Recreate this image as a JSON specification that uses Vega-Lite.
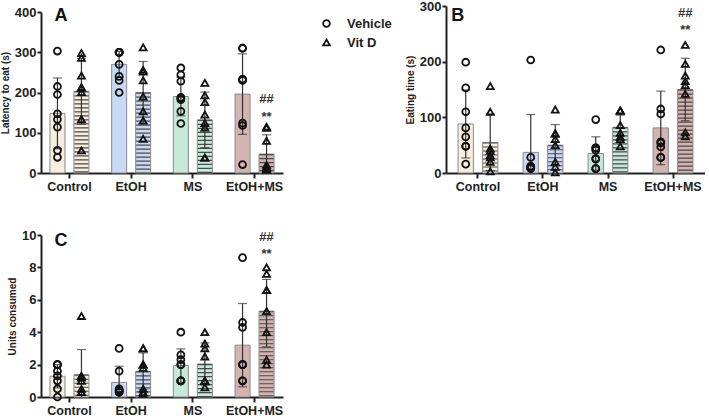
{
"$schema":"https://vega.github.io/schema/vega-lite/v6.json",
"padding":{"left":0,"top":0,"right":0,"bottom":0},
"background":"white",
"config":{
 "view":{"stroke":null},
 "font":"Liberation Sans",
 "axis":{"grid":false,"domainColor":"#222","domainWidth":2,"tickColor":"#222","tickWidth":2,"labelFont":"Liberation Sans","labelFontWeight":"bold","labelColor":"#222","titleFont":"Liberation Sans","titleFontWeight":"bold","titleColor":"#222","labelOverlap":false},
 "axisX":{"tickSize":5,"labelFontSize":12.5,"labelPadding":2,"labelAngle":0},
 "axisY":{"tickSize":4,"labelFontSize":13,"labelPadding":1,"titleFontSize":10,"titlePadding":4}
},
"datasets":{
 "summary":[
  {"p":"A","g":"Control","t":"Vehicle","m":148,"lo":60,"hi":236},
  {"p":"A","g":"Control","t":"Vit D","m":203,"lo":121,"hi":285},
  {"p":"A","g":"EtOH","t":"Vehicle","m":270,"lo":238,"hi":302},
  {"p":"A","g":"EtOH","t":"Vit D","m":200,"lo":123,"hi":277},
  {"p":"A","g":"MS","t":"Vehicle","m":190,"lo":142,"hi":238},
  {"p":"A","g":"MS","t":"Vit D","m":132,"lo":63,"hi":201},
  {"p":"A","g":"EtOH+MS","t":"Vehicle","m":196,"lo":96,"hi":296},
  {"p":"A","g":"EtOH+MS","t":"Vit D","m":47,"lo":0,"hi":95},
  {"p":"B","g":"Control","t":"Vehicle","m":88,"lo":27,"hi":149},
  {"p":"B","g":"Control","t":"Vit D","m":55,"lo":4,"hi":106},
  {"p":"B","g":"EtOH","t":"Vehicle","m":37,"lo":0,"hi":105},
  {"p":"B","g":"EtOH","t":"Vit D","m":50,"lo":13,"hi":87},
  {"p":"B","g":"MS","t":"Vehicle","m":35,"lo":5,"hi":65},
  {"p":"B","g":"MS","t":"Vit D","m":82,"lo":60,"hi":104},
  {"p":"B","g":"EtOH+MS","t":"Vehicle","m":81,"lo":15,"hi":147},
  {"p":"B","g":"EtOH+MS","t":"Vit D","m":150,"lo":94,"hi":206},
  {"p":"C","g":"Control","t":"Vehicle","m":1.28,"lo":0.56,"hi":2.0},
  {"p":"C","g":"Control","t":"Vit D","m":1.38,"lo":0,"hi":2.93},
  {"p":"C","g":"EtOH","t":"Vehicle","m":0.9,"lo":0,"hi":1.9},
  {"p":"C","g":"EtOH","t":"Vit D","m":1.59,"lo":0.46,"hi":2.72},
  {"p":"C","g":"MS","t":"Vehicle","m":1.94,"lo":0.91,"hi":2.97},
  {"p":"C","g":"MS","t":"Vit D","m":2.04,"lo":0.74,"hi":3.34},
  {"p":"C","g":"EtOH+MS","t":"Vehicle","m":3.2,"lo":0.63,"hi":5.77},
  {"p":"C","g":"EtOH+MS","t":"Vit D","m":5.3,"lo":3.1,"hi":7.26}
 ],
 "pts":[
  {"p":"A","g":"Control","t":"Vehicle","v":303},{"p":"A","g":"Control","t":"Vehicle","v":215},{"p":"A","g":"Control","t":"Vehicle","v":195},{"p":"A","g":"Control","t":"Vehicle","v":147},{"p":"A","g":"Control","t":"Vehicle","v":133},{"p":"A","g":"Control","t":"Vehicle","v":114},{"p":"A","g":"Control","t":"Vehicle","v":56},{"p":"A","g":"Control","t":"Vehicle","v":39},
  {"p":"A","g":"Control","t":"Vit D","v":298},{"p":"A","g":"Control","t":"Vit D","v":286},{"p":"A","g":"Control","t":"Vit D","v":242},{"p":"A","g":"Control","t":"Vit D","v":213},{"p":"A","g":"Control","t":"Vit D","v":212},{"p":"A","g":"Control","t":"Vit D","v":201},{"p":"A","g":"Control","t":"Vit D","v":134},{"p":"A","g":"Control","t":"Vit D","v":56},
  {"p":"A","g":"EtOH","t":"Vehicle","v":300},{"p":"A","g":"EtOH","t":"Vehicle","v":300},{"p":"A","g":"EtOH","t":"Vehicle","v":300},{"p":"A","g":"EtOH","t":"Vehicle","v":299},{"p":"A","g":"EtOH","t":"Vehicle","v":270},{"p":"A","g":"EtOH","t":"Vehicle","v":240},{"p":"A","g":"EtOH","t":"Vehicle","v":230},{"p":"A","g":"EtOH","t":"Vehicle","v":200},
  {"p":"A","g":"EtOH","t":"Vit D","v":312},{"p":"A","g":"EtOH","t":"Vit D","v":256},{"p":"A","g":"EtOH","t":"Vit D","v":252},{"p":"A","g":"EtOH","t":"Vit D","v":230},{"p":"A","g":"EtOH","t":"Vit D","v":190},{"p":"A","g":"EtOH","t":"Vit D","v":153},{"p":"A","g":"EtOH","t":"Vit D","v":130},{"p":"A","g":"EtOH","t":"Vit D","v":85},
  {"p":"A","g":"MS","t":"Vehicle","v":261},{"p":"A","g":"MS","t":"Vehicle","v":244},{"p":"A","g":"MS","t":"Vehicle","v":228},{"p":"A","g":"MS","t":"Vehicle","v":188},{"p":"A","g":"MS","t":"Vehicle","v":186},{"p":"A","g":"MS","t":"Vehicle","v":182},{"p":"A","g":"MS","t":"Vehicle","v":153},{"p":"A","g":"MS","t":"Vehicle","v":123},
  {"p":"A","g":"MS","t":"Vit D","v":224},{"p":"A","g":"MS","t":"Vit D","v":193},{"p":"A","g":"MS","t":"Vit D","v":176},{"p":"A","g":"MS","t":"Vit D","v":145},{"p":"A","g":"MS","t":"Vit D","v":124},{"p":"A","g":"MS","t":"Vit D","v":113},{"p":"A","g":"MS","t":"Vit D","v":38},{"p":"A","g":"MS","t":"Vit D","v":38},
  {"p":"A","g":"EtOH+MS","t":"Vehicle","v":310},{"p":"A","g":"EtOH+MS","t":"Vehicle","v":310},{"p":"A","g":"EtOH+MS","t":"Vehicle","v":233},{"p":"A","g":"EtOH+MS","t":"Vehicle","v":232},{"p":"A","g":"EtOH+MS","t":"Vehicle","v":230},{"p":"A","g":"EtOH+MS","t":"Vehicle","v":124},{"p":"A","g":"EtOH+MS","t":"Vehicle","v":118},{"p":"A","g":"EtOH+MS","t":"Vehicle","v":21},
  {"p":"A","g":"EtOH+MS","t":"Vit D","v":115},{"p":"A","g":"EtOH+MS","t":"Vit D","v":112},{"p":"A","g":"EtOH+MS","t":"Vit D","v":80},{"p":"A","g":"EtOH+MS","t":"Vit D","v":20},{"p":"A","g":"EtOH+MS","t":"Vit D","v":15},{"p":"A","g":"EtOH+MS","t":"Vit D","v":12},{"p":"A","g":"EtOH+MS","t":"Vit D","v":10},{"p":"A","g":"EtOH+MS","t":"Vit D","v":8},
  {"p":"B","g":"Control","t":"Vehicle","v":199},{"p":"B","g":"Control","t":"Vehicle","v":153},{"p":"B","g":"Control","t":"Vehicle","v":110},{"p":"B","g":"Control","t":"Vehicle","v":81},{"p":"B","g":"Control","t":"Vehicle","v":65},{"p":"B","g":"Control","t":"Vehicle","v":48},{"p":"B","g":"Control","t":"Vehicle","v":48},{"p":"B","g":"Control","t":"Vehicle","v":16},
  {"p":"B","g":"Control","t":"Vit D","v":156},{"p":"B","g":"Control","t":"Vit D","v":110},{"p":"B","g":"Control","t":"Vit D","v":44},{"p":"B","g":"Control","t":"Vit D","v":40},{"p":"B","g":"Control","t":"Vit D","v":32},{"p":"B","g":"Control","t":"Vit D","v":28},{"p":"B","g":"Control","t":"Vit D","v":20},{"p":"B","g":"Control","t":"Vit D","v":3},
  {"p":"B","g":"EtOH","t":"Vehicle","v":203},{"p":"B","g":"EtOH","t":"Vehicle","v":28},{"p":"B","g":"EtOH","t":"Vehicle","v":12},{"p":"B","g":"EtOH","t":"Vehicle","v":11},{"p":"B","g":"EtOH","t":"Vehicle","v":10},{"p":"B","g":"EtOH","t":"Vehicle","v":9},{"p":"B","g":"EtOH","t":"Vehicle","v":8},{"p":"B","g":"EtOH","t":"Vehicle","v":12},
  {"p":"B","g":"EtOH","t":"Vit D","v":114},{"p":"B","g":"EtOH","t":"Vit D","v":71},{"p":"B","g":"EtOH","t":"Vit D","v":71},{"p":"B","g":"EtOH","t":"Vit D","v":61},{"p":"B","g":"EtOH","t":"Vit D","v":50},{"p":"B","g":"EtOH","t":"Vit D","v":20},{"p":"B","g":"EtOH","t":"Vit D","v":11},{"p":"B","g":"EtOH","t":"Vit D","v":1},
  {"p":"B","g":"MS","t":"Vehicle","v":96},{"p":"B","g":"MS","t":"Vehicle","v":45},{"p":"B","g":"MS","t":"Vehicle","v":45},{"p":"B","g":"MS","t":"Vehicle","v":41},{"p":"B","g":"MS","t":"Vehicle","v":26},{"p":"B","g":"MS","t":"Vehicle","v":25},{"p":"B","g":"MS","t":"Vehicle","v":8},{"p":"B","g":"MS","t":"Vehicle","v":8},
  {"p":"B","g":"MS","t":"Vit D","v":112},{"p":"B","g":"MS","t":"Vit D","v":112},{"p":"B","g":"MS","t":"Vit D","v":112},{"p":"B","g":"MS","t":"Vit D","v":86},{"p":"B","g":"MS","t":"Vit D","v":72},{"p":"B","g":"MS","t":"Vit D","v":65},{"p":"B","g":"MS","t":"Vit D","v":61},{"p":"B","g":"MS","t":"Vit D","v":48},
  {"p":"B","g":"EtOH+MS","t":"Vehicle","v":221},{"p":"B","g":"EtOH+MS","t":"Vehicle","v":115},{"p":"B","g":"EtOH+MS","t":"Vehicle","v":106},{"p":"B","g":"EtOH+MS","t":"Vehicle","v":56},{"p":"B","g":"EtOH+MS","t":"Vehicle","v":54},{"p":"B","g":"EtOH+MS","t":"Vehicle","v":47},{"p":"B","g":"EtOH+MS","t":"Vehicle","v":28},{"p":"B","g":"EtOH+MS","t":"Vehicle","v":28},
  {"p":"B","g":"EtOH+MS","t":"Vit D","v":230},{"p":"B","g":"EtOH+MS","t":"Vit D","v":196},{"p":"B","g":"EtOH+MS","t":"Vit D","v":175},{"p":"B","g":"EtOH+MS","t":"Vit D","v":165},{"p":"B","g":"EtOH+MS","t":"Vit D","v":158},{"p":"B","g":"EtOH+MS","t":"Vit D","v":142},{"p":"B","g":"EtOH+MS","t":"Vit D","v":73},{"p":"B","g":"EtOH+MS","t":"Vit D","v":66},
  {"p":"C","g":"Control","t":"Vehicle","v":2},{"p":"C","g":"Control","t":"Vehicle","v":2},{"p":"C","g":"Control","t":"Vehicle","v":2},{"p":"C","g":"Control","t":"Vehicle","v":1.6},{"p":"C","g":"Control","t":"Vehicle","v":1.3},{"p":"C","g":"Control","t":"Vehicle","v":1},{"p":"C","g":"Control","t":"Vehicle","v":0.5},{"p":"C","g":"Control","t":"Vehicle","v":0},
  {"p":"C","g":"Control","t":"Vit D","v":5},{"p":"C","g":"Control","t":"Vit D","v":1.3},{"p":"C","g":"Control","t":"Vit D","v":1.3},{"p":"C","g":"Control","t":"Vit D","v":1.2},{"p":"C","g":"Control","t":"Vit D","v":1.0},{"p":"C","g":"Control","t":"Vit D","v":0.5},{"p":"C","g":"Control","t":"Vit D","v":0.3},{"p":"C","g":"Control","t":"Vit D","v":0.3},
  {"p":"C","g":"EtOH","t":"Vehicle","v":3},{"p":"C","g":"EtOH","t":"Vehicle","v":1.6},{"p":"C","g":"EtOH","t":"Vehicle","v":0.5},{"p":"C","g":"EtOH","t":"Vehicle","v":0.4},{"p":"C","g":"EtOH","t":"Vehicle","v":0.4},{"p":"C","g":"EtOH","t":"Vehicle","v":0.4},{"p":"C","g":"EtOH","t":"Vehicle","v":0.3},{"p":"C","g":"EtOH","t":"Vehicle","v":0.3},
  {"p":"C","g":"EtOH","t":"Vit D","v":3},{"p":"C","g":"EtOH","t":"Vit D","v":3},{"p":"C","g":"EtOH","t":"Vit D","v":2},{"p":"C","g":"EtOH","t":"Vit D","v":2},{"p":"C","g":"EtOH","t":"Vit D","v":1.8},{"p":"C","g":"EtOH","t":"Vit D","v":0.5},{"p":"C","g":"EtOH","t":"Vit D","v":0.3},{"p":"C","g":"EtOH","t":"Vit D","v":0.2},
  {"p":"C","g":"MS","t":"Vehicle","v":4},{"p":"C","g":"MS","t":"Vehicle","v":2.6},{"p":"C","g":"MS","t":"Vehicle","v":2.3},{"p":"C","g":"MS","t":"Vehicle","v":2},{"p":"C","g":"MS","t":"Vehicle","v":2},{"p":"C","g":"MS","t":"Vehicle","v":1},{"p":"C","g":"MS","t":"Vehicle","v":1},{"p":"C","g":"MS","t":"Vehicle","v":1},
  {"p":"C","g":"MS","t":"Vit D","v":4},{"p":"C","g":"MS","t":"Vit D","v":3.3},{"p":"C","g":"MS","t":"Vit D","v":3},{"p":"C","g":"MS","t":"Vit D","v":2.5},{"p":"C","g":"MS","t":"Vit D","v":1},{"p":"C","g":"MS","t":"Vit D","v":1},{"p":"C","g":"MS","t":"Vit D","v":1},{"p":"C","g":"MS","t":"Vit D","v":0.6},
  {"p":"C","g":"EtOH+MS","t":"Vehicle","v":8.6},{"p":"C","g":"EtOH+MS","t":"Vehicle","v":4.6},{"p":"C","g":"EtOH+MS","t":"Vehicle","v":4.3},{"p":"C","g":"EtOH+MS","t":"Vehicle","v":2},{"p":"C","g":"EtOH+MS","t":"Vehicle","v":2},{"p":"C","g":"EtOH+MS","t":"Vehicle","v":2},{"p":"C","g":"EtOH+MS","t":"Vehicle","v":1},{"p":"C","g":"EtOH+MS","t":"Vehicle","v":1},
  {"p":"C","g":"EtOH+MS","t":"Vit D","v":8},{"p":"C","g":"EtOH+MS","t":"Vit D","v":7.6},{"p":"C","g":"EtOH+MS","t":"Vit D","v":6.6},{"p":"C","g":"EtOH+MS","t":"Vit D","v":6.6},{"p":"C","g":"EtOH+MS","t":"Vit D","v":5.3},{"p":"C","g":"EtOH+MS","t":"Vit D","v":4},{"p":"C","g":"EtOH+MS","t":"Vit D","v":2.3},{"p":"C","g":"EtOH+MS","t":"Vit D","v":2}
 ],
 "ann":[
  {"p":"A","g":"EtOH+MS","t":"Vit D","v":183,"lab":"##"},
  {"p":"A","g":"EtOH+MS","t":"Vit D","v":140,"lab":"**"},
  {"p":"B","g":"EtOH+MS","t":"Vit D","v":287,"lab":"##"},
  {"p":"B","g":"EtOH+MS","t":"Vit D","v":257,"lab":"**"},
  {"p":"C","g":"EtOH+MS","t":"Vit D","v":9.9,"lab":"##"},
  {"p":"C","g":"EtOH+MS","t":"Vit D","v":8.83,"lab":"**"}
 ],
 "letters":[
  {"p":"A","g":"Control","t":"Vehicle","v":390,"lab":"A"},
  {"p":"B","g":"Control","t":"Vehicle","v":282,"lab":"B"},
  {"p":"C","g":"Control","t":"Vehicle","v":9.6,"lab":"C"}
 ]
},
"spacing":36,
"resolve":{"scale":{"x":"independent","y":"independent","xOffset":"independent","color":"independent","shape":"independent"},"legend":{"shape":"independent","color":"independent"}},
"vconcat":[
 {"bounds":"flush","spacing":163,
  "resolve":{"scale":{"x":"independent","y":"independent","xOffset":"independent","color":"independent","shape":"independent"},"legend":{"shape":"independent","color":"independent"}},
  "hconcat":[
  {"width":242,"height":167,
   "encoding":{
    "x":{"field":"g","type":"nominal","sort":["Control","EtOH","MS","EtOH+MS"],"scale":{"paddingInner":0.222,"paddingOuter":0.072},"axis":{"title":null,"labelAngle":0}},
    "xOffset":{"field":"t","type":"nominal","sort":["Vehicle","Vit D"],"scale":{"paddingInner":0.375,"paddingOuter":0.1875}}
   },
   "layer":[
    {"data":{"name":"summary"},"transform":[{"filter":"datum.p==='A'"}],
     "mark":{"type":"bar","stroke":"#8a8a8a","strokeWidth":1},
     "encoding":{"y":{"field":"m","type":"quantitative","scale":{"domain":[0,400],"range":[167,6],"nice":false},"axis":{"title":"Latency to eat (s)","values":[0,100,200,300,400],"labelOverlap":false}},
      "color":{"field":"g","type":"nominal","scale":{"domain":["Control","EtOH","MS","EtOH+MS"],"range":["#f7eedf","#c9d9f5","#c7e9da","#d5b3b1"]},"legend":null}}},
    {"data":{"name":"summary"},"transform":[{"filter":"datum.p==='A' && datum.t==='Vit D'"}],
     "mark":{"type":"rule","strokeWidth":14,"strokeDash":[1.2,2.8],"color":"#4a4a4a","strokeCap":"butt"},
     "encoding":{"y":{"field":"m","type":"quantitative"},"y2":{"datum":0}}},
    {"data":{"name":"summary"},"transform":[{"filter":"datum.p==='A'"}],
     "mark":{"type":"rule","color":"#333","strokeWidth":1.2},
     "encoding":{"y":{"field":"lo","type":"quantitative"},"y2":{"field":"hi"}}},
    {"data":{"name":"summary"},"transform":[{"filter":"datum.p==='A'"}],
     "mark":{"type":"tick","color":"#333","thickness":1.2,"size":9},
     "encoding":{"y":{"field":"hi","type":"quantitative"}}},
    {"data":{"name":"summary"},"transform":[{"filter":"datum.p==='A' && datum.lo>0"}],
     "mark":{"type":"tick","color":"#333","thickness":1.2,"size":9},
     "encoding":{"y":{"field":"lo","type":"quantitative"}}},
    {"data":{"name":"pts"},"transform":[{"filter":"datum.p==='A'"}],
     "mark":{"type":"point","filled":false,"color":"#111","strokeWidth":1.8,"size":48,"opacity":1},
     "encoding":{"y":{"field":"v","type":"quantitative"},
      "shape":{"field":"t","type":"nominal","scale":{"domain":["Vehicle","Vit D"],"range":["circle","triangle-up"]},
       "legend":{"orient":"none","legendX":279,"legendY":11,"title":null,"labelFontSize":13,"labelFontWeight":"bold","labelFont":"Liberation Sans","labelColor":"#222","symbolStrokeColor":"#111","symbolStrokeWidth":1.8,"symbolSize":45,"rowPadding":4,"labelOffset":14}}}},
    {"data":{"name":"ann"},"transform":[{"filter":"datum.p==='A'"}],
     "mark":{"type":"text","fontSize":13,"fontWeight":"bold","color":"#333","baseline":"middle"},
     "encoding":{"y":{"field":"v","type":"quantitative"},"text":{"field":"lab"}}},
    {"data":{"name":"letters"},"transform":[{"filter":"datum.p==='A'"}],
     "mark":{"type":"text","fontSize":18,"fontWeight":"bold","color":"#111","baseline":"middle","dx":3.5},
     "encoding":{"y":{"field":"v","type":"quantitative"},"text":{"field":"lab"}}}
   ]},
  {"width":259,"height":167,
   "encoding":{
    "x":{"field":"g","type":"nominal","sort":["Control","EtOH","MS","EtOH+MS"],"scale":{"paddingInner":0.246,"paddingOuter":0.115},"axis":{"title":null,"labelAngle":0}},
    "xOffset":{"field":"t","type":"nominal","sort":["Vehicle","Vit D"],"scale":{"paddingInner":0.375,"paddingOuter":0.1875}}
   },
   "layer":[
    {"data":{"name":"summary"},"transform":[{"filter":"datum.p==='B'"}],
     "mark":{"type":"bar","stroke":"#8a8a8a","strokeWidth":1},
     "encoding":{"y":{"field":"m","type":"quantitative","scale":{"domain":[0,300],"nice":false},"axis":{"title":"Eating time (s)","values":[0,100,200,300],"labelOverlap":false}},
      "color":{"field":"g","type":"nominal","scale":{"domain":["Control","EtOH","MS","EtOH+MS"],"range":["#f7eedf","#c9d9f5","#c7e9da","#d5b3b1"]},"legend":null}}},
    {"data":{"name":"summary"},"transform":[{"filter":"datum.p==='B' && datum.t==='Vit D'"}],
     "mark":{"type":"rule","strokeWidth":14.5,"strokeDash":[1.2,2.8],"color":"#4a4a4a","strokeCap":"butt"},
     "encoding":{"y":{"field":"m","type":"quantitative"},"y2":{"datum":0}}},
    {"data":{"name":"summary"},"transform":[{"filter":"datum.p==='B'"}],
     "mark":{"type":"rule","color":"#333","strokeWidth":1.2},
     "encoding":{"y":{"field":"lo","type":"quantitative"},"y2":{"field":"hi"}}},
    {"data":{"name":"summary"},"transform":[{"filter":"datum.p==='B'"}],
     "mark":{"type":"tick","color":"#333","thickness":1.2,"size":9},
     "encoding":{"y":{"field":"hi","type":"quantitative"}}},
    {"data":{"name":"summary"},"transform":[{"filter":"datum.p==='B' && datum.lo>0"}],
     "mark":{"type":"tick","color":"#333","thickness":1.2,"size":9},
     "encoding":{"y":{"field":"lo","type":"quantitative"}}},
    {"data":{"name":"pts"},"transform":[{"filter":"datum.p==='B'"}],
     "mark":{"type":"point","filled":false,"color":"#111","strokeWidth":1.8,"size":48,"opacity":1},
     "encoding":{"y":{"field":"v","type":"quantitative"},
      "shape":{"field":"t","type":"nominal","scale":{"domain":["Vehicle","Vit D"],"range":["circle","triangle-up"]},"legend":null}}},
    {"data":{"name":"ann"},"transform":[{"filter":"datum.p==='B'"}],
     "mark":{"type":"text","fontSize":13,"fontWeight":"bold","color":"#333","baseline":"middle"},
     "encoding":{"y":{"field":"v","type":"quantitative"},"text":{"field":"lab"}}},
    {"data":{"name":"letters"},"transform":[{"filter":"datum.p==='B'"}],
     "mark":{"type":"text","fontSize":18,"fontWeight":"bold","color":"#111","baseline":"middle","dx":-8},
     "encoding":{"y":{"field":"v","type":"quantitative"},"text":{"field":"lab"}}}
   ]}
 ]},
 {"width":242,"height":162,
  "encoding":{
   "x":{"field":"g","type":"nominal","sort":["Control","EtOH","MS","EtOH+MS"],"scale":{"paddingInner":0.222,"paddingOuter":0.072},"axis":{"title":null,"labelAngle":0}},
   "xOffset":{"field":"t","type":"nominal","sort":["Vehicle","Vit D"],"scale":{"paddingInner":0.375,"paddingOuter":0.1875}}
  },
  "layer":[
   {"data":{"name":"summary"},"transform":[{"filter":"datum.p==='C'"}],
    "mark":{"type":"bar","stroke":"#8a8a8a","strokeWidth":1},
    "encoding":{"y":{"field":"m","type":"quantitative","scale":{"domain":[0,10],"nice":false},"axis":{"title":"Units consumed","values":[0,2,4,6,8,10],"tickCount":6,"labelOverlap":false,"labelSeparation":0}},
     "color":{"field":"g","type":"nominal","scale":{"domain":["Control","EtOH","MS","EtOH+MS"],"range":["#f7eedf","#c9d9f5","#c7e9da","#d5b3b1"]},"legend":null}}},
   {"data":{"name":"summary"},"transform":[{"filter":"datum.p==='C' && datum.t==='Vit D'"}],
    "mark":{"type":"rule","strokeWidth":14,"strokeDash":[1.2,2.8],"color":"#4a4a4a","strokeCap":"butt"},
    "encoding":{"y":{"field":"m","type":"quantitative"},"y2":{"datum":0}}},
   {"data":{"name":"summary"},"transform":[{"filter":"datum.p==='C'"}],
    "mark":{"type":"rule","color":"#333","strokeWidth":1.2},
    "encoding":{"y":{"field":"lo","type":"quantitative"},"y2":{"field":"hi"}}},
   {"data":{"name":"summary"},"transform":[{"filter":"datum.p==='C'"}],
    "mark":{"type":"tick","color":"#333","thickness":1.2,"size":9},
    "encoding":{"y":{"field":"hi","type":"quantitative"}}},
   {"data":{"name":"summary"},"transform":[{"filter":"datum.p==='C' && datum.lo>0"}],
    "mark":{"type":"tick","color":"#333","thickness":1.2,"size":9},
    "encoding":{"y":{"field":"lo","type":"quantitative"}}},
   {"data":{"name":"pts"},"transform":[{"filter":"datum.p==='C'"}],
    "mark":{"type":"point","filled":false,"color":"#111","strokeWidth":1.8,"size":48,"opacity":1},
    "encoding":{"y":{"field":"v","type":"quantitative"},
     "shape":{"field":"t","type":"nominal","scale":{"domain":["Vehicle","Vit D"],"range":["circle","triangle-up"]},"legend":null}}},
   {"data":{"name":"ann"},"transform":[{"filter":"datum.p==='C'"}],
    "mark":{"type":"text","fontSize":13,"fontWeight":"bold","color":"#333","baseline":"middle"},
    "encoding":{"y":{"field":"v","type":"quantitative"},"text":{"field":"lab"}}},
   {"data":{"name":"letters"},"transform":[{"filter":"datum.p==='C'"}],
    "mark":{"type":"text","fontSize":18,"fontWeight":"bold","color":"#111","baseline":"middle","dx":3.5},
    "encoding":{"y":{"field":"v","type":"quantitative"},"text":{"field":"lab"}}}
  ]}
]
}
